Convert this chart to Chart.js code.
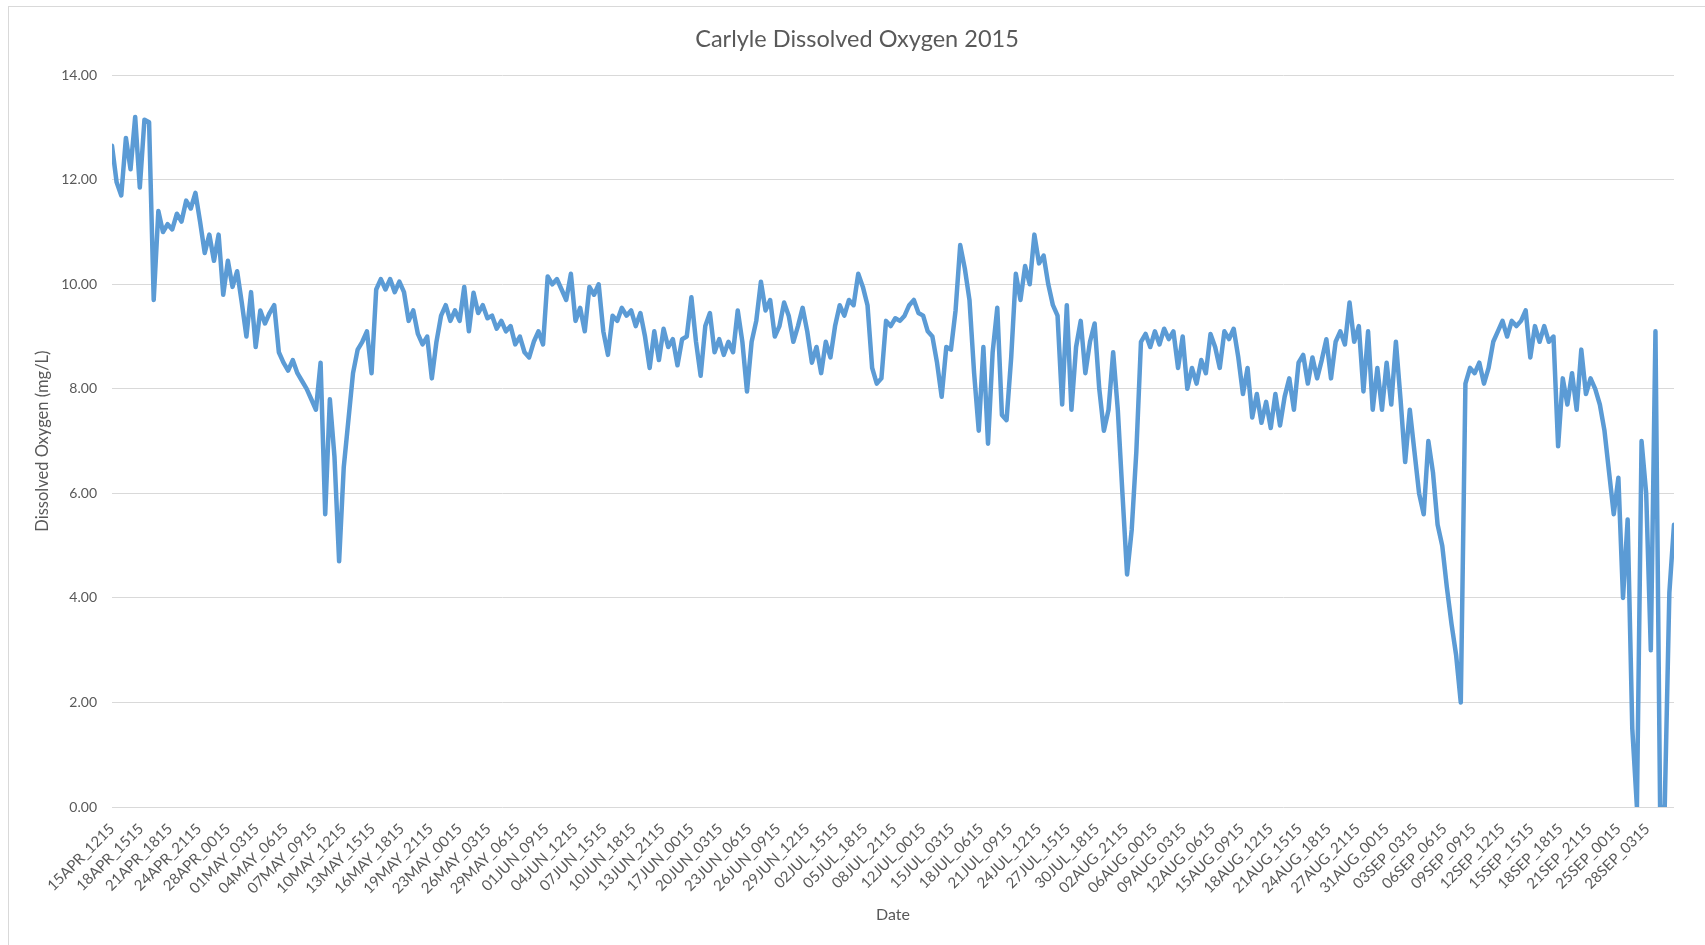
<!DOCTYPE html>
<html>
<head>
<meta charset="utf-8">
<title>Carlyle Dissolved Oxygen 2015</title>
<script src="https://cdn.jsdelivr.net/npm/chart.js@4.4.1/dist/chart.umd.min.js"></script>
<style>
  html, body { margin: 0; padding: 0; background: #fff; overflow: hidden; }
  #frame { position: absolute; left: 8px; top: 6px; width: 1720px; height: 960px; border: 1px solid #d9d9d9; }
  #wrap { position: absolute; left: 0; top: 0; width: 1705px; height: 945px; }
</style>
</head>
<body>
<div id="frame"></div>
<div id="wrap"><canvas id="myChart"></canvas></div>
<script>
// readings every 12 hours (48 x 15-min samples), starting 15APR_1215
const samplesPerReading = 48
const samplesPerTick = 300

const tickLabels = [
  '15APR_1215', '18APR_1515', '21APR_1815', '24APR_2115', '28APR_0015', '01MAY_0315',
  '04MAY_0615', '07MAY_0915', '10MAY_1215', '13MAY_1515', '16MAY_1815', '19MAY_2115',
  '23MAY_0015', '26MAY_0315', '29MAY_0615', '01JUN_0915', '04JUN_1215', '07JUN_1515',
  '10JUN_1815', '13JUN_2115', '17JUN_0015', '20JUN_0315', '23JUN_0615', '26JUN_0915',
  '29JUN_1215', '02JUL_1515', '05JUL_1815', '08JUL_2115', '12JUL_0015', '15JUL_0315',
  '18JUL_0615', '21JUL_0915', '24JUL_1215', '27JUL_1515', '30JUL_1815', '02AUG_2115',
  '06AUG_0015', '09AUG_0315', '12AUG_0615', '15AUG_0915', '18AUG_1215', '21AUG_1515',
  '24AUG_1815', '27AUG_2115', '31AUG_0015', '03SEP_0315', '06SEP_0615', '09SEP_0915',
  '12SEP_1215', '15SEP_1515', '18SEP_1815', '21SEP_2115', '25SEP_0015', '28SEP_0315'
]

// dissolved oxygen, mg/L
const doValues = [
  12.65, 11.95, 11.7, 12.8, 12.2, 13.2, 11.85, 13.15, 13.1, 9.7, 11.4, 11.0, 11.15, 11.05,
  11.35, 11.2, 11.6, 11.45, 11.75, 11.2, 10.6, 10.95, 10.45, 10.95, 9.8, 10.45, 9.95, 10.25,
  9.65, 9.0, 9.85, 8.8, 9.5, 9.25, 9.45, 9.6, 8.7, 8.5, 8.35, 8.55, 8.3, 8.15,
  8.0, 7.8, 7.6, 8.5, 5.6, 7.8, 6.7, 4.7, 6.5, 7.4, 8.3, 8.75, 8.9, 9.1,
  8.3, 9.9, 10.1, 9.9, 10.1, 9.85, 10.05, 9.85, 9.3, 9.5, 9.05, 8.85, 9.0, 8.2,
  8.9, 9.4, 9.6, 9.3, 9.5, 9.3, 9.95, 9.1, 9.84, 9.45, 9.6, 9.35, 9.4, 9.15,
  9.3, 9.1, 9.2, 8.85, 9.0, 8.7, 8.6, 8.9, 9.1, 8.85, 10.15, 10.0, 10.1, 9.9,
  9.7, 10.2, 9.3, 9.55, 9.1, 9.95, 9.8, 10.0, 9.1, 8.65, 9.4, 9.3, 9.55, 9.4,
  9.5, 9.2, 9.45, 9.0, 8.4, 9.1, 8.55, 9.15, 8.8, 8.95, 8.45, 8.95, 9.0, 9.75,
  8.9, 8.25, 9.2, 9.45, 8.7, 8.95, 8.65, 8.9, 8.7, 9.5, 8.9, 7.95, 8.9, 9.3,
  10.05, 9.5, 9.7, 9.0, 9.2, 9.65, 9.4, 8.9, 9.2, 9.55, 9.1, 8.5, 8.8, 8.3,
  8.9, 8.6, 9.2, 9.6, 9.4, 9.7, 9.6, 10.2, 9.95, 9.6, 8.4, 8.1, 8.2, 9.3,
  9.2, 9.35, 9.3, 9.4, 9.6, 9.7, 9.45, 9.4, 9.1, 9.0, 8.5, 7.85, 8.8, 8.75,
  9.5, 10.75, 10.3, 9.7, 8.3, 7.2, 8.8, 6.95, 8.7, 9.55, 7.5, 7.4, 8.6, 10.2,
  9.7, 10.35, 10.0, 10.95, 10.4, 10.55, 10.0, 9.6, 9.4, 7.7, 9.6, 7.6, 8.8, 9.3,
  8.3, 8.9, 9.25, 8.0, 7.2, 7.6, 8.7, 7.6, 6.0, 4.45, 5.3, 6.8, 8.9, 9.05,
  8.8, 9.1, 8.85, 9.15, 8.95, 9.1, 8.4, 9.0, 8.0, 8.4, 8.1, 8.55, 8.3, 9.05,
  8.8, 8.4, 9.1, 8.95, 9.15, 8.6, 7.9, 8.4, 7.45, 7.9, 7.35, 7.75, 7.25, 7.9,
  7.3, 7.85, 8.2, 7.6, 8.5, 8.65, 8.1, 8.6, 8.2, 8.55, 8.95, 8.2, 8.9, 9.1,
  8.85, 9.65, 8.9, 9.2, 7.95, 9.1, 7.6, 8.4, 7.6, 8.5, 7.7, 8.9, 7.8, 6.6,
  7.6, 6.8, 6.0, 5.6, 7.0, 6.4, 5.4, 5.0, 4.2, 3.5, 2.9, 2.0, 8.1, 8.4,
  8.3, 8.5, 8.1, 8.4, 8.9, 9.1, 9.3, 9.0, 9.3, 9.2, 9.3, 9.5, 8.6, 9.2,
  8.9, 9.2, 8.9, 9.0, 6.9, 8.2, 7.7, 8.3, 7.6, 8.75, 7.9, 8.2, 8.0, 7.7,
  7.2, 6.4, 5.6, 6.3, 4.0, 5.5, 1.5, 0, 7.0, 6.0, 3.0, 9.1, 0, 0,
  4.1, 5.4
]

Chart.defaults.font.family = 'Lato, "Open Sans", sans-serif'
Chart.defaults.color = '#595959'

function makeChart() {
    const ctx = document.getElementById('myChart')
    const points = doValues.map((v, i) => ({x: i * samplesPerReading, y: v}))
    new Chart(ctx, {
      type: 'line',
      data: {
        datasets: [{
          label: 'Dissolved Oxygen',
          data: points,
          borderColor: '#5B9BD5',
          borderWidth: 4.5,
          borderJoinStyle: 'round',
          borderCapStyle: 'round',
          pointRadius: 0,
          tension: 0,
          fill: false
        }]
      },
      options: {
        responsive: true,
        maintainAspectRatio: false,
        animation: false,
        layout: {
            padding: {left: 9, right: 0, top: 0, bottom: 0}
        },
        scales: {
          x: {
            type: 'linear',
            min: 0,
            max: (doValues.length - 1) * samplesPerReading,
            afterFit: (s) => { s.height = 138 },
            // one tick every 300 samples, labelled from tickLabels
            afterBuildTicks: (s) => {
                s.ticks = tickLabels.map((t, i) => ({value: i * samplesPerTick}))
            },
            grid: {display: false},
            border: {display: false},
            ticks: {
                autoSkip: false,
                minRotation: 45,
                maxRotation: 45,
                padding: 5,
                font: {size: 15},
                callback: (v, i) => tickLabels[i]
            },
            title: {
                display: true,
                text: 'Date',
                font: {size: 16},
                padding: {top: 0, bottom: 21}
            }
          },
          y: {
            min: 0,
            max: 14,
            afterFit: (s) => { s.width = 103 },
            grid: {color: '#d9d9d9', drawTicks: false},
            border: {display: false},
            ticks: {
                stepSize: 2,
                padding: 15,
                font: {size: 14},
                callback: (v) => v.toFixed(2)
            },
            title: {
                display: true,
                text: 'Dissolved Oxygen (mg/L)',
                font: {size: 16.5},
                padding: {top: 24, bottom: 0}
            }
          },
          yRight: {
            position: 'right',
            afterFit: (s) => { s.width = 31 },
            grid: {display: false, drawTicks: false},
            border: {display: false},
            ticks: {display: false}
          }
        },
        plugins: {
            legend: {display: false},
            tooltip: {enabled: false},
            title: {
                display: true,
                text: 'Carlyle Dissolved Oxygen 2015',
                font: {size: 23.5, weight: 'normal'},
                color: '#595959',
                padding: {top: 25, bottom: 22}
            }
        }
      }
    })
}
makeChart()
</script>
</body>
</html>
